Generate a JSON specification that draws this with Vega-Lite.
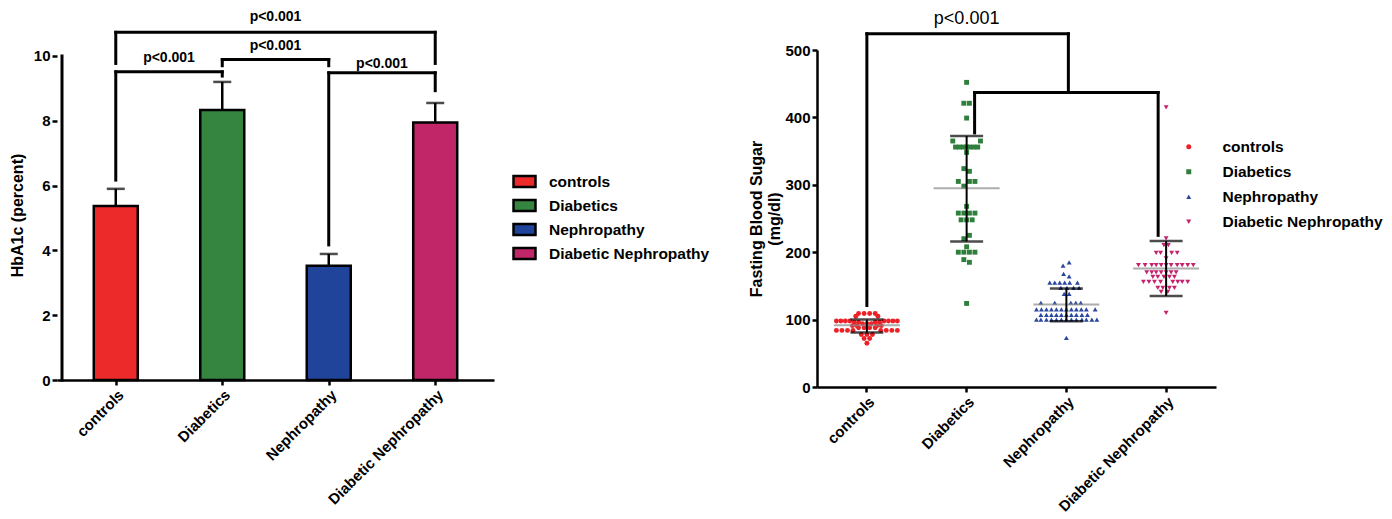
{
  "$schema": "https://vega.github.io/schema/vega-lite/v6.json",
  "padding": {"left": 9, "top": 9, "right": 5, "bottom": 5},
  "spacing": 38,
  "config": {
    "view": {"stroke": null},
    "font": "Liberation Sans",
    "axis": {"domainColor": "#000", "domainWidth": 2.5, "tickColor": "#000", "tickWidth": 2.5, "tickSize": 5, "labelColor": "#000", "labelFontSize": 15, "labelFontWeight": "bold", "labelFont": "Liberation Sans", "titleColor": "#000", "titleFontSize": 16, "titleFontWeight": "bold", "titleFont": "Liberation Sans", "grid": false, "labelOverlap": false},
    "legend": {"labelFont": "Liberation Sans", "labelFontSize": 15.5, "labelFontWeight": "bold", "labelColor": "#000", "labelLimit": 400}
  },
  "datasets": {
    "hba": [
      {"group": "controls", "pos": 1, "mean": 5.37, "upper": 5.9},
      {"group": "Diabetics", "pos": 2, "mean": 8.33, "upper": 9.2},
      {"group": "Nephropathy", "pos": 3, "mean": 3.53, "upper": 3.89},
      {"group": "Diabetic Nephropathy", "pos": 4, "mean": 7.95, "upper": 8.55}
    ],
    "lseg": [
      {"x": 0.495, "x2": 0.495, "y": 0, "y2": 10},
      {"x": 1, "x2": 1, "y": 6.17, "y2": 9.51},
      {"x": 1, "x2": 2, "y": 9.51, "y2": 9.51},
      {"x": 2, "x2": 2, "y": 9.38, "y2": 9.51},
      {"x": 2, "x2": 2, "y": 9.7, "y2": 9.89},
      {"x": 2, "x2": 3, "y": 9.89, "y2": 9.89},
      {"x": 3, "x2": 3, "y": 9.7, "y2": 9.89},
      {"x": 3, "x2": 3, "y": 4.17, "y2": 9.48},
      {"x": 3, "x2": 4, "y": 9.48, "y2": 9.48},
      {"x": 4, "x2": 4, "y": 8.93, "y2": 9.48},
      {"x": 1, "x2": 1, "y": 9.77, "y2": 10.73},
      {"x": 1, "x2": 4, "y": 10.73, "y2": 10.73},
      {"x": 4, "x2": 4, "y": 9.77, "y2": 10.73}
    ],
    "ltxt": [
      {"x": 1.5, "y": 9.94, "label": "p<0.001"},
      {"x": 2.5, "y": 10.31, "label": "p<0.001"},
      {"x": 3.5, "y": 9.75, "label": "p<0.001"},
      {"x": 2.5, "y": 11.19, "label": "p<0.001"}
    ],
    "stats": [
      {"group": "controls", "mean": 91.5, "lo": 81, "hi": 100},
      {"group": "Diabetics", "mean": 295, "lo": 216, "hi": 372.5},
      {"group": "Nephropathy", "mean": 122.4, "lo": 97.6, "hi": 146.2},
      {"group": "Diabetic Nephropathy", "mean": 176, "lo": 135, "hi": 216.5}
    ],
    "rseg": [
      {"x": 1, "x2": 1, "y": 121, "y2": 524},
      {"x": 1, "x2": 3.02, "y": 524, "y2": 524},
      {"x": 3.02, "x2": 3.02, "y": 437, "y2": 524},
      {"x": 2.08, "x2": 3.92, "y": 437, "y2": 437},
      {"x": 2.08, "x2": 2.08, "y": 377, "y2": 437},
      {"x": 3.92, "x2": 3.92, "y": 225, "y2": 437}
    ],
    "rtxt": [{"x": 2, "y": 546, "label": "p<0.001"}],
    "fbs": [
      {"group": "controls", "value": 109, "jitter": -1.5},
      {"group": "controls", "value": 109, "jitter": -0.5},
      {"group": "controls", "value": 109, "jitter": 0.5},
      {"group": "controls", "value": 109, "jitter": 1.5},
      {"group": "controls", "value": 105, "jitter": -2},
      {"group": "controls", "value": 105, "jitter": 2},
      {"group": "controls", "value": 98, "jitter": -5.5},
      {"group": "controls", "value": 98, "jitter": -4.7},
      {"group": "controls", "value": 98, "jitter": -3.9},
      {"group": "controls", "value": 98, "jitter": -3.1},
      {"group": "controls", "value": 98, "jitter": 3.1},
      {"group": "controls", "value": 98, "jitter": 3.9},
      {"group": "controls", "value": 98, "jitter": 4.7},
      {"group": "controls", "value": 98, "jitter": 5.5},
      {"group": "controls", "value": 96, "jitter": -2.3},
      {"group": "controls", "value": 96, "jitter": -1.5},
      {"group": "controls", "value": 96, "jitter": 1.5},
      {"group": "controls", "value": 96, "jitter": 2.3},
      {"group": "controls", "value": 94, "jitter": -0.8},
      {"group": "controls", "value": 94, "jitter": 0},
      {"group": "controls", "value": 94, "jitter": 0.8},
      {"group": "controls", "value": 91, "jitter": -2.6},
      {"group": "controls", "value": 91, "jitter": -1.8},
      {"group": "controls", "value": 91, "jitter": 1.8},
      {"group": "controls", "value": 91, "jitter": 2.6},
      {"group": "controls", "value": 88, "jitter": -1.5},
      {"group": "controls", "value": 88, "jitter": -0.5},
      {"group": "controls", "value": 88, "jitter": 0.5},
      {"group": "controls", "value": 88, "jitter": 1.5},
      {"group": "controls", "value": 84, "jitter": -5.5},
      {"group": "controls", "value": 84, "jitter": -4.5},
      {"group": "controls", "value": 84, "jitter": -3.5},
      {"group": "controls", "value": 84, "jitter": -2.5},
      {"group": "controls", "value": 84, "jitter": 2.5},
      {"group": "controls", "value": 84, "jitter": 3.5},
      {"group": "controls", "value": 84, "jitter": 4.5},
      {"group": "controls", "value": 84, "jitter": 5.5},
      {"group": "controls", "value": 78, "jitter": -1},
      {"group": "controls", "value": 78, "jitter": 0},
      {"group": "controls", "value": 78, "jitter": 1},
      {"group": "controls", "value": 72, "jitter": -0.5},
      {"group": "controls", "value": 72, "jitter": 0.5},
      {"group": "controls", "value": 65, "jitter": 0},
      {"group": "Diabetics", "value": 452, "jitter": 0},
      {"group": "Diabetics", "value": 421, "jitter": -0.5},
      {"group": "Diabetics", "value": 421, "jitter": 0.5},
      {"group": "Diabetics", "value": 399, "jitter": 0},
      {"group": "Diabetics", "value": 365, "jitter": -2.5},
      {"group": "Diabetics", "value": 365, "jitter": 2.5},
      {"group": "Diabetics", "value": 356, "jitter": -2},
      {"group": "Diabetics", "value": 356, "jitter": -1.3},
      {"group": "Diabetics", "value": 356, "jitter": -0.6},
      {"group": "Diabetics", "value": 356, "jitter": 0},
      {"group": "Diabetics", "value": 356, "jitter": 0.6},
      {"group": "Diabetics", "value": 356, "jitter": 1.3},
      {"group": "Diabetics", "value": 356, "jitter": 2},
      {"group": "Diabetics", "value": 348, "jitter": 0},
      {"group": "Diabetics", "value": 324, "jitter": -0.5},
      {"group": "Diabetics", "value": 320, "jitter": 0.5},
      {"group": "Diabetics", "value": 305, "jitter": -1.5},
      {"group": "Diabetics", "value": 305, "jitter": 0.5},
      {"group": "Diabetics", "value": 305, "jitter": 1.5},
      {"group": "Diabetics", "value": 298, "jitter": -0.5},
      {"group": "Diabetics", "value": 268, "jitter": 0},
      {"group": "Diabetics", "value": 258, "jitter": -1.5},
      {"group": "Diabetics", "value": 258, "jitter": -0.5},
      {"group": "Diabetics", "value": 258, "jitter": 0.5},
      {"group": "Diabetics", "value": 258, "jitter": 1.5},
      {"group": "Diabetics", "value": 248, "jitter": -1},
      {"group": "Diabetics", "value": 248, "jitter": 0},
      {"group": "Diabetics", "value": 248, "jitter": 1},
      {"group": "Diabetics", "value": 225, "jitter": 0.5},
      {"group": "Diabetics", "value": 220, "jitter": -0.5},
      {"group": "Diabetics", "value": 208, "jitter": 0},
      {"group": "Diabetics", "value": 200, "jitter": -1.5},
      {"group": "Diabetics", "value": 200, "jitter": -0.5},
      {"group": "Diabetics", "value": 200, "jitter": 0.5},
      {"group": "Diabetics", "value": 200, "jitter": 1.5},
      {"group": "Diabetics", "value": 189, "jitter": -0.5},
      {"group": "Diabetics", "value": 185, "jitter": 0.5},
      {"group": "Diabetics", "value": 124, "jitter": 0},
      {"group": "Nephropathy", "value": 185, "jitter": 0.5},
      {"group": "Nephropathy", "value": 180, "jitter": -0.6},
      {"group": "Nephropathy", "value": 168, "jitter": -0.5},
      {"group": "Nephropathy", "value": 164, "jitter": 0.5},
      {"group": "Nephropathy", "value": 155, "jitter": -3},
      {"group": "Nephropathy", "value": 155, "jitter": -2.1},
      {"group": "Nephropathy", "value": 155, "jitter": -1.2},
      {"group": "Nephropathy", "value": 155, "jitter": -0.3},
      {"group": "Nephropathy", "value": 155, "jitter": 0.6},
      {"group": "Nephropathy", "value": 155, "jitter": 2},
      {"group": "Nephropathy", "value": 147, "jitter": -1},
      {"group": "Nephropathy", "value": 147, "jitter": 0.1},
      {"group": "Nephropathy", "value": 147, "jitter": 1.3},
      {"group": "Nephropathy", "value": 147, "jitter": 2.3},
      {"group": "Nephropathy", "value": 138, "jitter": -0.4},
      {"group": "Nephropathy", "value": 138, "jitter": 0.5},
      {"group": "Nephropathy", "value": 125, "jitter": -4.6},
      {"group": "Nephropathy", "value": 125, "jitter": -2.1},
      {"group": "Nephropathy", "value": 125, "jitter": 0.8},
      {"group": "Nephropathy", "value": 125, "jitter": 1.7},
      {"group": "Nephropathy", "value": 125, "jitter": 2.6},
      {"group": "Nephropathy", "value": 115, "jitter": -5.4},
      {"group": "Nephropathy", "value": 115, "jitter": -4.5},
      {"group": "Nephropathy", "value": 115, "jitter": -3.6},
      {"group": "Nephropathy", "value": 115, "jitter": -2.7},
      {"group": "Nephropathy", "value": 115, "jitter": -1.8},
      {"group": "Nephropathy", "value": 115, "jitter": -0.9},
      {"group": "Nephropathy", "value": 115, "jitter": 0},
      {"group": "Nephropathy", "value": 115, "jitter": 0.9},
      {"group": "Nephropathy", "value": 115, "jitter": 1.8},
      {"group": "Nephropathy", "value": 115, "jitter": 2.7},
      {"group": "Nephropathy", "value": 115, "jitter": 3.6},
      {"group": "Nephropathy", "value": 115, "jitter": 5.2},
      {"group": "Nephropathy", "value": 107, "jitter": -4.6},
      {"group": "Nephropathy", "value": 107, "jitter": -3.6},
      {"group": "Nephropathy", "value": 107, "jitter": -2.7},
      {"group": "Nephropathy", "value": 107, "jitter": -1.8},
      {"group": "Nephropathy", "value": 107, "jitter": -0.9},
      {"group": "Nephropathy", "value": 107, "jitter": 0},
      {"group": "Nephropathy", "value": 107, "jitter": 0.9},
      {"group": "Nephropathy", "value": 107, "jitter": 1.8},
      {"group": "Nephropathy", "value": 107, "jitter": 2.8},
      {"group": "Nephropathy", "value": 107, "jitter": 3.8},
      {"group": "Nephropathy", "value": 100, "jitter": -5.4},
      {"group": "Nephropathy", "value": 100, "jitter": -4.6},
      {"group": "Nephropathy", "value": 100, "jitter": -3.6},
      {"group": "Nephropathy", "value": 100, "jitter": -2.7},
      {"group": "Nephropathy", "value": 100, "jitter": -1.8},
      {"group": "Nephropathy", "value": 100, "jitter": -0.9},
      {"group": "Nephropathy", "value": 100, "jitter": 0},
      {"group": "Nephropathy", "value": 100, "jitter": 0.9},
      {"group": "Nephropathy", "value": 100, "jitter": 1.8},
      {"group": "Nephropathy", "value": 100, "jitter": 2.8},
      {"group": "Nephropathy", "value": 100, "jitter": 3.6},
      {"group": "Nephropathy", "value": 100, "jitter": 4.6},
      {"group": "Nephropathy", "value": 100, "jitter": 5.5},
      {"group": "Nephropathy", "value": 73, "jitter": 0},
      {"group": "Diabetic Nephropathy", "value": 415, "jitter": 0},
      {"group": "Diabetic Nephropathy", "value": 220.5, "jitter": 0},
      {"group": "Diabetic Nephropathy", "value": 210.5, "jitter": -0.4},
      {"group": "Diabetic Nephropathy", "value": 210.5, "jitter": 0.4},
      {"group": "Diabetic Nephropathy", "value": 199, "jitter": -1.8},
      {"group": "Diabetic Nephropathy", "value": 199, "jitter": -1},
      {"group": "Diabetic Nephropathy", "value": 199, "jitter": 1},
      {"group": "Diabetic Nephropathy", "value": 199, "jitter": 2},
      {"group": "Diabetic Nephropathy", "value": 191, "jitter": 0},
      {"group": "Diabetic Nephropathy", "value": 181, "jitter": -5},
      {"group": "Diabetic Nephropathy", "value": 181, "jitter": -3.8},
      {"group": "Diabetic Nephropathy", "value": 181, "jitter": -2.6},
      {"group": "Diabetic Nephropathy", "value": 181, "jitter": -1.8},
      {"group": "Diabetic Nephropathy", "value": 181, "jitter": -0.9},
      {"group": "Diabetic Nephropathy", "value": 181, "jitter": 0},
      {"group": "Diabetic Nephropathy", "value": 181, "jitter": 0.9},
      {"group": "Diabetic Nephropathy", "value": 181, "jitter": 2},
      {"group": "Diabetic Nephropathy", "value": 181, "jitter": 2.9},
      {"group": "Diabetic Nephropathy", "value": 181, "jitter": 3.9},
      {"group": "Diabetic Nephropathy", "value": 181, "jitter": 4.9},
      {"group": "Diabetic Nephropathy", "value": 170, "jitter": -3.5},
      {"group": "Diabetic Nephropathy", "value": 170, "jitter": -2.6},
      {"group": "Diabetic Nephropathy", "value": 170, "jitter": -1.8},
      {"group": "Diabetic Nephropathy", "value": 170, "jitter": -0.9},
      {"group": "Diabetic Nephropathy", "value": 170, "jitter": 0},
      {"group": "Diabetic Nephropathy", "value": 170, "jitter": 0.9},
      {"group": "Diabetic Nephropathy", "value": 170, "jitter": 1.8},
      {"group": "Diabetic Nephropathy", "value": 163.5, "jitter": -2.4},
      {"group": "Diabetic Nephropathy", "value": 163.5, "jitter": -1.5},
      {"group": "Diabetic Nephropathy", "value": 163.5, "jitter": -0.4},
      {"group": "Diabetic Nephropathy", "value": 163.5, "jitter": 0.6},
      {"group": "Diabetic Nephropathy", "value": 163.5, "jitter": 1.5},
      {"group": "Diabetic Nephropathy", "value": 156, "jitter": -4.1},
      {"group": "Diabetic Nephropathy", "value": 156, "jitter": -3.1},
      {"group": "Diabetic Nephropathy", "value": 156, "jitter": -2.1},
      {"group": "Diabetic Nephropathy", "value": 156, "jitter": -1},
      {"group": "Diabetic Nephropathy", "value": 156, "jitter": 1.2},
      {"group": "Diabetic Nephropathy", "value": 156, "jitter": 2.1},
      {"group": "Diabetic Nephropathy", "value": 156, "jitter": 2.9},
      {"group": "Diabetic Nephropathy", "value": 156, "jitter": 3.9},
      {"group": "Diabetic Nephropathy", "value": 147, "jitter": -1.5},
      {"group": "Diabetic Nephropathy", "value": 147, "jitter": -0.6},
      {"group": "Diabetic Nephropathy", "value": 147, "jitter": 0.6},
      {"group": "Diabetic Nephropathy", "value": 147, "jitter": 1.5},
      {"group": "Diabetic Nephropathy", "value": 141, "jitter": -0.9},
      {"group": "Diabetic Nephropathy", "value": 141, "jitter": 0.3},
      {"group": "Diabetic Nephropathy", "value": 110, "jitter": 0}
    ]
  },
  "resolve": {"scale": {"color": "independent", "shape": "independent"}, "legend": {"color": "independent", "shape": "independent"}},
  "hconcat": [
    {
      "width": 437,
      "height": 330,
      "layer": [
        {
          "data": {"name": "hba"},
          "mark": {"type": "bar", "stroke": "#000", "strokeWidth": 2.5, "opacity": 1, "width": 44},
          "encoding": {
            "x": {"field": "pos", "type": "quantitative", "scale": {"domain": [0.495, 4.505], "nice": false, "zero": false}, "axis": {"title": null, "values": [1, 2, 3, 4], "labelAngle": -45, "labelExpr": "['', 'controls', 'Diabetics', 'Nephropathy', 'Diabetic Nephropathy'][datum.value]"}},
            "y": {"field": "mean", "type": "quantitative", "title": "HbA1c (percent)", "scale": {"domain": [0, 10.185], "nice": false}, "axis": {"values": [0, 2, 4, 6, 8, 10], "domain": false, "titlePadding": 8}},
            "color": {"field": "group", "type": "nominal", "scale": {"domain": ["controls", "Diabetics", "Nephropathy", "Diabetic Nephropathy"], "range": ["#ED2A2A", "#35843F", "#21449B", "#C02668"]}, "legend": {"title": null, "orient": "none", "legendX": 455, "legendY": 119, "symbolType": "M-1,-0.5H1V0.5H-1Z", "symbolSize": 484, "symbolStrokeColor": "#000", "symbolStrokeWidth": 2.5, "symbolOpacity": 1, "labelOffset": 12, "rowPadding": 1}}
          }
        },
        {
          "data": {"name": "hba"},
          "mark": {"type": "rule", "strokeWidth": 2.5, "color": "#000"},
          "encoding": {
            "x": {"field": "pos", "type": "quantitative"},
            "y": {"field": "mean", "type": "quantitative"},
            "y2": {"field": "upper"}
          }
        },
        {
          "data": {"name": "hba"},
          "mark": {"type": "tick", "orient": "horizontal", "size": 18, "thickness": 2.5, "color": "#000"},
          "encoding": {
            "x": {"field": "pos", "type": "quantitative"},
            "y": {"field": "upper", "type": "quantitative"}
          }
        },
        {
          "data": {"name": "lseg"},
          "mark": {"type": "rule", "strokeWidth": 3, "color": "#000", "strokeCap": "square"},
          "encoding": {
            "x": {"field": "x", "type": "quantitative"},
            "x2": {"field": "x2"},
            "y": {"field": "y", "type": "quantitative"},
            "y2": {"field": "y2"}
          }
        },
        {
          "data": {"name": "ltxt"},
          "mark": {"type": "text", "fontSize": 14, "fontWeight": "bold", "color": "#000", "font": "Liberation Sans"},
          "encoding": {
            "x": {"field": "x", "type": "quantitative"},
            "y": {"field": "y", "type": "quantitative"},
            "text": {"field": "label"}
          }
        }
      ]
    },
    {
      "width": 399,
      "height": 337,
      "resolve": {"scale": {"x": "independent"}},
      "layer": [
        {
          "layer": [
            {
              "data": {"name": "fbs"},
              "mark": {"type": "point", "filled": true, "size": 24, "opacity": 1},
              "encoding": {
                "x": {"field": "group", "type": "nominal", "scale": {"type": "band", "domain": ["controls", "Diabetics", "Nephropathy", "Diabetic Nephropathy"], "paddingInner": 0, "paddingOuter": 0}, "axis": {"title": null, "labelAngle": -45}},
                "xOffset": {"field": "jitter", "type": "quantitative", "scale": {"domain": [-9, 9], "nice": false, "zero": false}},
                "y": {"field": "value", "type": "quantitative", "title": ["Fasting Blood Sugar", "(mg/dl)"], "scale": {"domain": [0, 500], "nice": false}, "axis": {"values": [0, 100, 200, 300, 400, 500], "titlePadding": 2}},
                "color": {"field": "group", "type": "nominal", "scale": {"domain": ["controls", "Diabetics", "Nephropathy", "Diabetic Nephropathy"], "range": ["#EC2127", "#2F7E3B", "#2A47A0", "#C4236C"]}, "legend": {"title": null, "orient": "none", "legendX": 364, "legendY": 89, "symbolSize": 25, "labelOffset": 26, "rowPadding": 8}},
                "shape": {"field": "group", "type": "nominal", "scale": {"domain": ["controls", "Diabetics", "Nephropathy", "Diabetic Nephropathy"], "range": ["circle", "square", "triangle-up", "triangle-down"]}, "legend": {"title": null, "orient": "none", "legendX": 364, "legendY": 89, "symbolSize": 25, "labelOffset": 26, "rowPadding": 8}}
              }
            },
            {
              "data": {"name": "stats"},
              "mark": {"type": "tick", "size": 66, "thickness": 2, "color": "#8a8a8a"},
              "encoding": {
                "x": {"field": "group", "type": "nominal", "scale": {"type": "band", "domain": ["controls", "Diabetics", "Nephropathy", "Diabetic Nephropathy"], "paddingInner": 0, "paddingOuter": 0}},
                "y": {"field": "mean", "type": "quantitative"}
              }
            },
            {
              "data": {"name": "stats"},
              "mark": {"type": "rule", "strokeWidth": 2, "color": "#000"},
              "encoding": {
                "x": {"field": "group", "type": "nominal", "scale": {"type": "band", "domain": ["controls", "Diabetics", "Nephropathy", "Diabetic Nephropathy"], "paddingInner": 0, "paddingOuter": 0}},
                "y": {"field": "lo", "type": "quantitative"},
                "y2": {"field": "hi"}
              }
            },
            {
              "data": {"name": "stats"},
              "mark": {"type": "tick", "size": 33, "thickness": 2.5, "color": "#000"},
              "encoding": {
                "x": {"field": "group", "type": "nominal", "scale": {"type": "band", "domain": ["controls", "Diabetics", "Nephropathy", "Diabetic Nephropathy"], "paddingInner": 0, "paddingOuter": 0}},
                "y": {"field": "lo", "type": "quantitative"}
              }
            },
            {
              "data": {"name": "stats"},
              "mark": {"type": "tick", "size": 33, "thickness": 2.5, "color": "#000"},
              "encoding": {
                "x": {"field": "group", "type": "nominal", "scale": {"type": "band", "domain": ["controls", "Diabetics", "Nephropathy", "Diabetic Nephropathy"], "paddingInner": 0, "paddingOuter": 0}},
                "y": {"field": "hi", "type": "quantitative"}
              }
            }
          ]
        },
        {
          "layer": [
            {
              "data": {"name": "rseg"},
              "mark": {"type": "rule", "strokeWidth": 3, "color": "#000", "strokeCap": "square"},
              "encoding": {
                "x": {"field": "x", "type": "quantitative", "scale": {"domain": [0.5, 4.5], "nice": false, "zero": false}, "axis": null},
                "x2": {"field": "x2"},
                "y": {"field": "y", "type": "quantitative"},
                "y2": {"field": "y2"}
              }
            },
            {
              "data": {"name": "rtxt"},
              "mark": {"type": "text", "fontSize": 18, "color": "#000", "font": "Liberation Sans"},
              "encoding": {
                "x": {"field": "x", "type": "quantitative"},
                "y": {"field": "y", "type": "quantitative"},
                "text": {"field": "label"}
              }
            }
          ]
        }
      ]
    }
  ]
}
